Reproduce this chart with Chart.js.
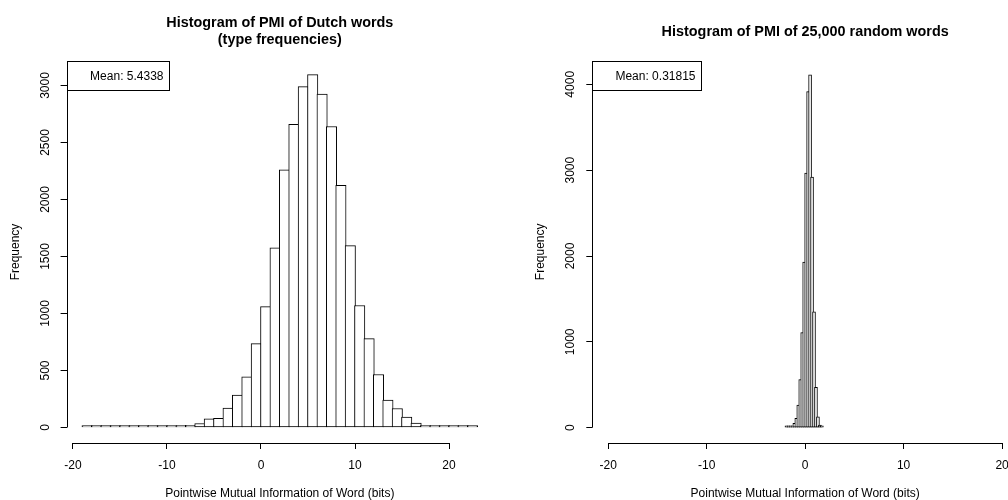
<!DOCTYPE html>
<html>
<head>
<meta charset="utf-8">
<script src="https://cdn.jsdelivr.net/npm/chart.js@4.4.1/dist/chart.umd.min.js"></script>
<style>
  html, body { margin: 0; padding: 0; background: #fff; overflow: hidden; width: 1008px; height: 500px; }
  #left { position: absolute; left: 0; top: 0; width: 504px; height: 500px; }
  #right { position: absolute; left: 504px; top: 0; width: 526px; height: 500px; }
</style>
</head>
<body>
<div id="left"><canvas id="dutchChart"></canvas></div>
<div id="right"><canvas id="randomChart"></canvas></div>
<script>
// left panel: PMI of Dutch words, bins of width 1 (left edges)
const dutchBinWidth = 1;
const dutchBins = [-19, -18, -17, -16, -15, -14, -13, -12, -11, -10, -9, -8, -7, -6, -5, -4, -3, -2, -1,
  0, 1, 2, 3, 4, 5, 6, 7, 8, 9, 10, 11, 12, 13, 14, 15, 16, 17, 18, 19, 20, 21, 22];
const dutchCounts = [4, 2, 2, 4, 4, 4, 4, 5, 9, 15, 16, 20, 35, 75, 80, 170, 285, 445, 735,
  1060, 1575, 2260, 2660, 2990, 3095, 2925, 2640, 2125, 1595, 1070, 780, 465, 240, 167, 91, 38, 9, 12, 5, 3, 3, 3];
const dutchMean = 'Mean: 5.4338';
const dutchTitle = ['Histogram of PMI of Dutch words', '(type frequencies)'];

// right panel: PMI of 25,000 random words, bins of width 0.2 (left edges)
const randomBinWidth = 0.2;
const randomBins = [-2.0, -1.8, -1.6, -1.4, -1.2, -1.0, -0.8, -0.6, -0.4, -0.2,
  0.0, 0.2, 0.4, 0.6, 0.8, 1.0, 1.2, 1.4, 1.6];
const randomCounts = [2, 4, 8, 23, 51, 109, 264, 562, 1109, 1930,
  2965, 3915, 4109, 2919, 1349, 470, 128, 31, 8];
const randomMean = 'Mean: 0.31815';
const randomTitle = 'Histogram of PMI of 25,000 random words';

const xTicks = [-20, -10, 0, 10, 20];
const dutchYTicks = [0, 500, 1000, 1500, 2000, 2500, 3000];
const randomYTicks = [0, 1000, 2000, 3000, 4000];
const xTitle = 'Pointwise Mutual Information of Word (bits)';
const yTitle = 'Frequency';

const FONT = '"Liberation Sans", Arial, Helvetica, sans-serif';
Chart.defaults.font.family = FONT;
Chart.defaults.font.size = 12;
Chart.defaults.color = '#000';

const meanBoxPlugin = {
  id: 'meanBox',
  afterDraw(chart, args, opts) {
    const { ctx, chartArea } = chart;
    ctx.save();
    ctx.font = '12px ' + FONT;
    const tw = ctx.measureText(opts.text).width;
    const x = Math.round(chartArea.left) + 0.5;
    const y = Math.round(chartArea.top) + 0.5;
    const w = Math.round(tw + 29);
    const h = 29;
    ctx.fillStyle = '#fff';
    ctx.fillRect(x, y, w, h);
    ctx.strokeStyle = '#000';
    ctx.lineWidth = 1;
    ctx.strokeRect(x, y, w, h);
    ctx.fillStyle = '#000';
    ctx.textAlign = 'right';
    ctx.textBaseline = 'middle';
    ctx.fillText(opts.text, x + w - 6, y + h / 2 + 0.5);
    ctx.restore();
  }
};

// R style axis lines: only from first to last tick
const axisLinePlugin = {
  id: 'axisLines',
  afterDraw(chart) {
    const { ctx, scales: { x, y } } = chart;
    ctx.save();
    ctx.strokeStyle = '#000';
    ctx.lineWidth = 1;
    ctx.beginPath();
    const ly = Math.round(x.top) + 0.5;
    ctx.moveTo(x.getPixelForValue(x.ticks[0].value), ly);
    ctx.lineTo(x.getPixelForValue(x.ticks[x.ticks.length - 1].value), ly);
    const lx = Math.round(y.right) + 0.5;
    ctx.moveTo(lx, y.getPixelForValue(y.ticks[0].value));
    ctx.lineTo(lx, y.getPixelForValue(y.ticks[y.ticks.length - 1].value));
    ctx.stroke();
    ctx.restore();
  }
};

function makeHistogram(canvasId, cfg) {
  const data = cfg.bins.map((b, i) => ({ x: b + cfg.binWidth / 2, y: cfg.counts[i] }));
  const gridOpts = { offset: false, drawOnChartArea: false, drawTicks: true, tickLength: 6, color: '#000', lineWidth: 1 };
  return new Chart(document.getElementById(canvasId), {
    type: 'bar',
    data: {
      datasets: [{
        data: data,
        backgroundColor: '#fff',
        borderColor: '#000',
        borderWidth: 1,
        borderSkipped: false,
        minBarLength: 2,
        barThickness: cfg.barThickness
      }]
    },
    plugins: [axisLinePlugin, meanBoxPlugin],
    options: {
      responsive: true,
      maintainAspectRatio: false,
      animation: false,
      devicePixelRatio: 1,
      layout: { padding: { left: 0, right: cfg.rightPad, top: 0, bottom: 0 } },
      scales: {
        x: {
          type: 'linear',
          min: cfg.xMin,
          max: cfg.xMax,
          offset: false,
          grid: gridOpts,
          border: { display: false },
          afterBuildTicks: s => { s.ticks = xTicks.map(v => ({ value: v })); },
          afterFit: s => { s.height = 57; },
          ticks: { color: '#000', padding: 9, maxRotation: 0, autoSkip: false, callback: v => String(v) },
          title: { display: true, text: xTitle, color: '#000', font: { size: 12, lineHeight: 1 }, padding: 0 }
        },
        y: {
          type: 'linear',
          min: cfg.yMin,
          max: cfg.yMax,
          grid: gridOpts,
          border: { display: false },
          afterBuildTicks: s => { s.ticks = cfg.yTicks.map(v => ({ value: v })); },
          afterFit: s => { s.width = cfg.yAxisWidth; },
          ticks: { color: '#000', padding: 2, minRotation: 90, maxRotation: 90, crossAlign: 'center', autoSkip: false, callback: v => String(v) },
          title: { display: true, text: yTitle, color: '#000', font: { size: 12 }, padding: { top: cfg.yTitlePad, bottom: 0 } }
        }
      },
      plugins: {
        legend: { display: false },
        tooltip: { enabled: false },
        title: {
          display: true,
          fullSize: false,
          text: cfg.title,
          color: '#000',
          font: { size: 14.4, weight: 'bold' },
          padding: cfg.titlePad
        },
        meanBox: { text: cfg.mean }
      }
    }
  });
}

makeHistogram('dutchChart', {
  bins: dutchBins, counts: dutchCounts, binWidth: dutchBinWidth, mean: dutchMean, title: dutchTitle,
  yTicks: dutchYTicks, xMin: -20.68, xMax: 24.68, yMin: -136, yMax: 3215,
  yAxisWidth: 66.6, rightPad: 11, yTitlePad: 8, barThickness: 10.4,
  titlePad: { top: 14, bottom: 12.4 }
});

makeHistogram('randomChart', {
  bins: randomBins, counts: randomCounts, binWidth: randomBinWidth, mean: randomMean, title: randomTitle,
  yTicks: randomYTicks, xMin: -21.62, xMax: 21.62, yMin: -178, yMax: 4275,
  yAxisWidth: 88.3, rightPad: 12, yTitlePad: 29, barThickness: 2.97,
  titlePad: { top: 22.9, bottom: 20.5 }
});
</script>
</body>
</html>
